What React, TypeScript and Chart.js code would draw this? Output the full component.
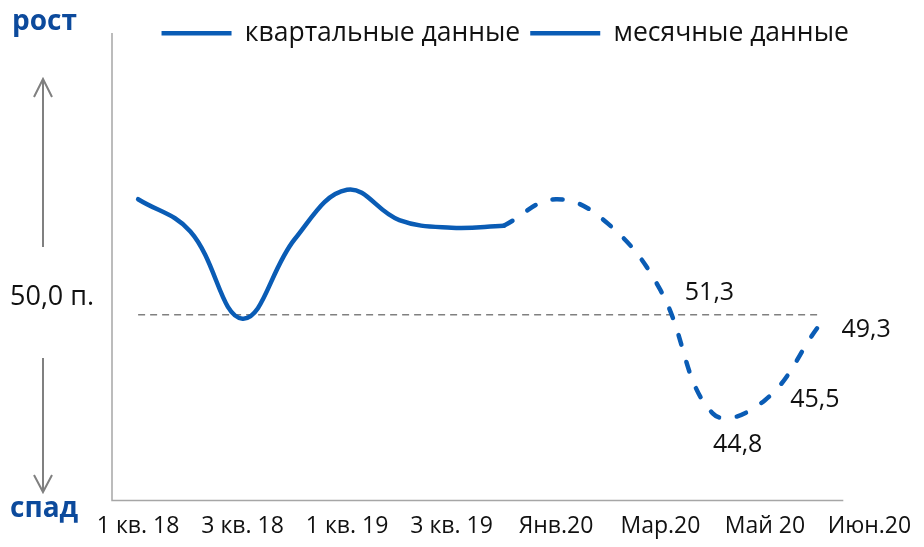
import React, { useEffect, useRef } from 'react';
import { Chart, registerables } from 'chart.js';

Chart.register(...registerables);

// ---- data ----
const tickLabels = ['1 кв. 18', '', '3 кв. 18', '', '1 кв. 19', '', '3 кв. 19', '', 'Янв.20', '', 'Мар.20', '', 'Май 20', '', 'Июн.20'];
const periods = ['1 кв. 18', '2 кв. 18', '3 кв. 18', '4 кв. 18', '1 кв. 19', '2 кв. 19', '3 кв. 19', '4 кв. 19', 'Янв.20', 'Фев.20', 'Мар.20', 'Апр.20', 'Май 20', 'Июн.20'];
const quarterlyValues = [56.1, 54.4, 49.8, 54.0, 56.6, 55.0, 54.6, 54.7];
const monthlyStart = 7; // monthly line starts from the last quarterly point (4 кв. 19)
const monthlyValues = [54.7, 56.1, 54.8, 51.3, 44.8, 45.5, 49.3];
const labeledIndices = [10, 11, 12, 13];
const THRESHOLD = 50;
const seriesNames = ['квартальные данные', 'месячные данные'];

const FONT = "'Open Sans', 'Noto Sans', sans-serif";
const BLUE = '#0a5cb5';
const TEXT_BLUE = '#0c4a9c';
const AXIS_GRAY = '#a6a6a6';
const ARROW_GRAY = '#808080';

const fmt = (v: number) => v.toFixed(1).replace('.', ',');

const quarterlyData = tickLabels.map((_, i) => (i < quarterlyValues.length ? quarterlyValues[i] : null));
const monthlyData = tickLabels.map((_, i) => {
  const k = i - monthlyStart;
  return k >= 0 && k < monthlyValues.length ? monthlyValues[k] : null;
});
const thresholdData = tickLabels.map((_, i) => (i < periods.length ? THRESHOLD : null));

const labelOffsets: Record<number, [number, number]> = {
  10: [49, 3],
  11: [25, 31],
  12: [50, 0],
  13: [49, 2],
};

const decorPlugin = {
  id: 'decor',
  afterDraw(chart: any) {
    const { ctx, chartArea } = chart;
    const x = chart.scales.x;
    const y = chart.scales.y;
    ctx.save();

    // axis lines
    ctx.strokeStyle = AXIS_GRAY;
    ctx.lineWidth = 1.5;
    ctx.beginPath();
    ctx.moveTo(chartArea.left, 33);
    ctx.lineTo(chartArea.left, chartArea.bottom);
    ctx.lineTo(x.getPixelForValue(periods.length - 0.5), chartArea.bottom);
    ctx.stroke();

    // arrows
    ctx.strokeStyle = ARROW_GRAY;
    ctx.lineWidth = 2;
    const ax = 43;
    ctx.beginPath();
    ctx.moveTo(ax, 247);
    ctx.lineTo(ax, 79);
    ctx.moveTo(ax - 9, 97);
    ctx.lineTo(ax, 79);
    ctx.lineTo(ax + 9, 97);
    ctx.moveTo(ax, 358);
    ctx.lineTo(ax, 492);
    ctx.moveTo(ax - 9, 475);
    ctx.lineTo(ax, 492);
    ctx.lineTo(ax + 9, 475);
    ctx.stroke();

    // side texts
    ctx.textAlign = 'left';
    ctx.textBaseline = 'alphabetic';
    ctx.fillStyle = TEXT_BLUE;
    ctx.font = `bold 28px ${FONT}`;
    ctx.fillText('рост', 12, 30);
    ctx.fillText('спад', 10, 517);
    ctx.fillStyle = '#111';
    ctx.font = `27px ${FONT}`;
    ctx.fillText(`${fmt(THRESHOLD)} п.`, 10, y.getPixelForValue(THRESHOLD) - 10);

    // data labels
    ctx.font = `25px ${FONT}`;
    ctx.textAlign = 'center';
    ctx.textBaseline = 'middle';
    labeledIndices.forEach((i) => {
      const v = monthlyData[i] as number;
      const [dx, dy] = labelOffsets[i];
      ctx.fillText(fmt(v), x.getPixelForValue(i) + dx, y.getPixelForValue(v) + dy);
    });
    ctx.restore();
  },
};

export default function App() {
  const ref = useRef<HTMLCanvasElement>(null);
  useEffect(() => {
    if (!ref.current) return;
    Chart.defaults.font.family = FONT;
    Chart.defaults.color = '#111';
    const chart = new Chart(ref.current, {
      type: 'line',
      data: {
        labels: tickLabels,
        datasets: [
          {
            label: seriesNames[0],
            data: quarterlyData,
            borderColor: BLUE,
            backgroundColor: BLUE,
            borderWidth: 4.5,
            borderCapStyle: 'round',
            borderJoinStyle: 'round',
            pointRadius: 0,
            tension: 0.4,
          },
          {
            label: seriesNames[1],
            data: monthlyData,
            borderColor: BLUE,
            backgroundColor: BLUE,
            borderWidth: 4.5,
            borderDash: [10, 18],
            borderCapStyle: 'round',
            borderJoinStyle: 'round',
            pointRadius: 0,
            tension: 0.4,
          },
          {
            label: 'threshold',
            data: thresholdData,
            borderColor: ARROW_GRAY,
            borderWidth: 1.5,
            borderDash: [7, 5],
            pointRadius: 0,
            tension: 0,
          },
        ],
      },
      options: {
        animation: false,
        responsive: true,
        maintainAspectRatio: false,
        events: [],
        layout: { padding: { left: 112, right: 25.6, top: 10, bottom: -5 } },
        plugins: {
          tooltip: { enabled: false },
          legend: {
            position: 'top',
            labels: {
              usePointStyle: true,
              pointStyle: 'line',
              pointStyleWidth: 70,
              boxHeight: 26,
              padding: 10,
              color: '#111',
              font: { size: 26.5, family: FONT },
              filter: (item: any) => item.datasetIndex !== 2,
            },
          },
        },
        scales: {
          x: {
            type: 'category',
            offset: true,
            grid: { display: false, drawTicks: false },
            border: { display: false },
            ticks: {
              autoSkip: false,
              maxRotation: 0,
              padding: 12,
              color: '#111',
              font: { size: 23, family: FONT },
            },
          },
          y: {
            display: false,
            min: 40.21,
            max: 63.63,
          },
        },
      },
      plugins: [decorPlugin],
    });
    return () => chart.destroy();
  }, []);

  return (
    <div style={{ position: 'absolute', left: 0, top: 0, width: 924, height: 547, background: '#fff' }}>
      <canvas ref={ref} />
    </div>
  );
}
